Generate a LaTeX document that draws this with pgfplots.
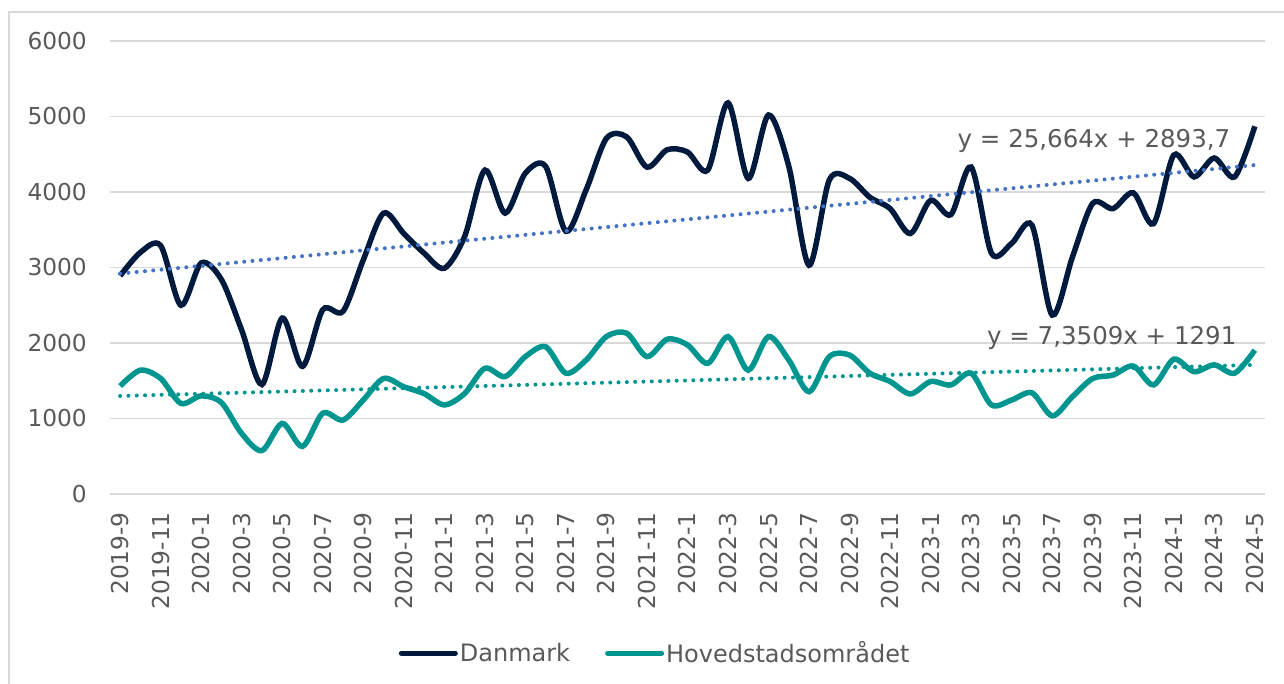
\documentclass[border=0pt]{standalone}
\usepackage{fontspec}
\setmainfont{DejaVu Sans}
\usepackage{pgfplots}
\pgfplotsset{compat=1.18}
\usepackage{pgfplotstable}
\definecolor{dkblue}{RGB}{0,26,62}
\definecolor{teal}{RGB}{0,150,143}
\definecolor{trendblue}{RGB}{68,114,196}
\definecolor{gridgray}{RGB}{217,217,217}
\definecolor{txtgray}{RGB}{89,89,89}

\pgfplotstableread{
i dk hv
0 2890 1430
1 3200 1640
2 3290 1530
3 2500 1200
4 3060 1300
5 2840 1210
6 2170 800
7 1450 575
8 2330 935
9 1690 630
10 2440 1070
11 2420 980
12 3100 1245
13 3720 1530
14 3450 1420
15 3190 1330
16 2990 1180
17 3410 1330
18 4290 1665
19 3720 1555
20 4250 1820
21 4340 1950
22 3480 1600
23 4030 1775
24 4710 2085
25 4730 2130
26 4330 1820
27 4560 2050
28 4530 1975
29 4290 1730
30 5180 2085
31 4180 1640
32 5020 2085
33 4340 1775
34 3030 1355
35 4160 1820
36 4180 1840
37 3930 1600
38 3780 1490
39 3450 1325
40 3890 1490
41 3700 1445
42 4330 1600
43 3190 1180
44 3320 1245
45 3560 1340
46 2370 1035
47 3140 1290
48 3850 1530
49 3780 1575
50 3990 1695
51 3580 1445
52 4490 1785
53 4200 1620
54 4450 1710
55 4200 1600
56 4870 1905
}\datatable

\begin{document}
\begin{tikzpicture}
\useasboundingbox (-110bp,-190bp) rectangle (1174bp,494bp);
\draw[gridgray, line width=1.5bp] (-101bp,-200bp) -- (-101bp,482bp) -- (1200bp,482bp);
\begin{axis}[
  at={(0,0)}, anchor=south west,
  scale only axis, width=1155bp, height=453bp,
  xmin=-0.5, xmax=56.5, ymin=0, ymax=6000,
  axis line style={draw=none},
  major tick length=0pt,
  ytick={0,1000,2000,3000,4000,5000,6000},
  ymajorgrids, grid style={gridgray, line width=1.5bp},
  /pgf/number format/assume math mode=true,
  /pgf/number format/1000 sep={},
  yticklabel style={font=\fontsize{23.3bp}{27bp}\selectfont, text=txtgray, inner sep=0pt, anchor=east},
  yticklabel shift=23bp,
  xtick={0,2,...,56},
  xticklabels={2019-9,2019-11,2020-1,2020-3,2020-5,2020-7,2020-9,2020-11,2021-1,2021-3,2021-5,2021-7,2021-9,2021-11,2022-1,2022-3,2022-5,2022-7,2022-9,2022-11,2023-1,2023-3,2023-5,2023-7,2023-9,2023-11,2024-1,2024-3,2024-5},
  xticklabel style={font=\fontsize{23.3bp}{27bp}\selectfont, text=txtgray, inner sep=0pt, rotate=90, anchor=east},
  xticklabel shift=18bp,
  legend style={at={(0.472,-0.351)}, anchor=center, draw=none, fill=none,
    font=\fontsize{24bp}{28bp}\selectfont, text=txtgray, inner sep=0pt,
    nodes={inner sep=2bp},
    /tikz/every even column/.append style={column sep=33bp}},
  legend columns=2,
  legend cell align=left,
  legend image code/.code={\draw[#1, line cap=round, line width=5bp] (0bp,0bp) -- (54bp,0bp);},
]
\addplot[dkblue, line width=5.5bp, smooth, tension=0.5] table[x=i, y=dk] {\datatable};
\addlegendentry{Danmark}
\addplot[teal, line width=5.5bp, smooth, tension=0.5] table[x=i, y=hv] {\datatable};
\addlegendentry{Hovedstadsområdet}
\addplot[trendblue, line width=4bp, line cap=round, dash pattern=on 0.01bp off 8.3bp, forget plot] coordinates {(0,2919.4) (56,4356.5)};
\addplot[teal, line width=4bp, line cap=round, dash pattern=on 0.01bp off 8.3bp, forget plot] coordinates {(0,1298.4) (56,1710.0)};
\node[anchor=east, inner sep=0pt, text=txtgray, font=\fontsize{24.5bp}{28bp}\selectfont] at (axis cs:54.8,4675) {y = 25,664x + 2893,7};
\node[anchor=east, inner sep=0pt, text=txtgray, font=\fontsize{24.5bp}{28bp}\selectfont] at (axis cs:55.1,2066) {y = 7,3509x + 1291};
\end{axis}
\end{tikzpicture}
\end{document}
